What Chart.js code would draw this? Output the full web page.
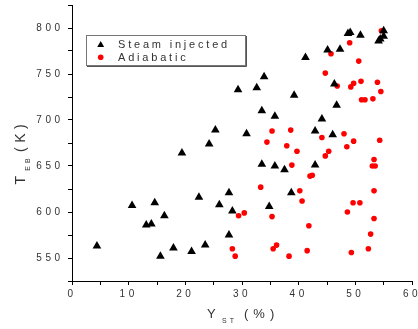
<!DOCTYPE html>
<html lang="en">
<head>
  <meta charset="UTF-8" />
  <title>T_EB vs Y_ST</title>
  <script src="https://cdn.jsdelivr.net/npm/chart.js"></script>
  <style>
    body { margin: 0; background: #fff; }
    canvas { display: block; }
  </style>
</head>
<body>
  <canvas id="chart" width="418" height="329"></canvas>

  <script>
    // values
    const steamX = [4.4, 10.6, 13.1, 14.0, 14.6, 16.3, 15.6, 17.9, 19.4, 21.1, 22.4, 23.5, 24.2, 25.3, 26.0, 27.7,
      28.3, 27.7, 29.3, 30.8, 32.6, 33.5, 33.9, 33.5, 35.8, 35.8, 37.5, 34.8, 38.7, 39.2, 41.2, 42.9, 42.9,
      44.1, 45.1, 46.0, 46.3, 46.7, 47.3, 48.7, 49.1, 50.9, 54.1, 54.4, 55.0, 55.0];
    const steamY = [563, 607, 586, 587, 610, 596, 552, 561, 664, 557, 616, 564, 674, 689, 608, 621,
      601, 575, 733, 685, 735, 710, 747, 652, 704, 650, 646, 606, 621, 727, 768, 688, 651,
      701, 776, 684, 739, 716, 777, 794, 795, 792, 786, 788, 797, 791];

    const adiabaticX = [49.0, 45.7, 50.6, 44.7, 51.0, 49.7, 49.2, 46.8, 53.9, 54.5, 51.1, 51.7, 53.1, 54.6,
      44.1, 48.0, 48.5, 49.7, 54.3, 44.7, 45.3, 53.3, 53.0, 53.5, 53.3, 49.6, 50.8, 48.6, 53.3, 52.7, 52.3, 49.3,
      35.3, 34.4, 38.6, 37.9, 39.7, 38.8, 42.0, 42.4, 40.2, 40.6, 33.3, 35.3, 30.4, 29.4, 41.8, 28.3, 28.8,
      35.5, 36.1, 38.3, 41.5];
    const adiabaticY = [784, 772, 764, 751, 742, 740, 736, 737, 741, 731, 722, 722, 723, 797,
      681, 685, 671, 677, 678, 661, 666, 657, 650, 650, 623, 610, 610, 600, 593, 576, 560, 556,
      688, 676, 689, 672, 666, 651, 639, 640, 623, 612, 627, 595, 599, 596, 585, 560, 552,
      560, 564, 552, 558];

    const seriesNames = ['Steam injected', 'Adiabatic'];
    const xTicks = [0, 10, 20, 30, 40, 50, 60];
    const yTicks = [550, 600, 650, 700, 750, 800];

    const FONT = '"Liberation Sans", Arial, sans-serif';
    const TEXT = '#333';

    const toPoints = (xs, ys) => xs.map((x, i) => ({ x: x, y: ys[i] }));

    // spaced-out tick digits like the original plot
    const spacing = {
      id: 'spacing',
      beforeDraw(chart) { chart.ctx.letterSpacing = '3.5px'; },
      afterDraw(chart) { chart.ctx.letterSpacing = '0px'; }
    };

    // axis titles with subscripts + boxed legend
    const decor = {
      id: 'decor',
      afterDraw(chart) {
        const ctx = chart.ctx;
        ctx.save();
        ctx.fillStyle = TEXT;
        ctx.textAlign = 'left';
        ctx.textBaseline = 'alphabetic';

        // x title
        ctx.letterSpacing = '0px';
        ctx.font = '13px ' + FONT;
        ctx.fillText('Y', 207, 318);
        ctx.font = '7px ' + FONT;
        ctx.letterSpacing = '3px';
        ctx.fillText('ST', 222, 322.5);
        ctx.font = '13px ' + FONT;
        ctx.letterSpacing = '5px';
        ctx.fillText('(%)', 244, 318);

        // y title, rotated
        ctx.save();
        ctx.translate(25, 184.5);
        ctx.rotate(-Math.PI / 2);
        ctx.letterSpacing = '0px';
        ctx.font = '14px ' + FONT;
        ctx.fillText('T', 0, 0);
        ctx.font = '7px ' + FONT;
        ctx.letterSpacing = '3px';
        ctx.fillText('EB', 13.8, 5);
        ctx.font = '14px ' + FONT;
        ctx.letterSpacing = '4.5px';
        ctx.fillText('(K)', 32.5, 0);
        ctx.restore();

        // legend box
        ctx.letterSpacing = '0px';
        ctx.fillStyle = '#fff';
        ctx.fillRect(86, 35, 160, 31);
        ctx.strokeStyle = '#777';
        ctx.lineWidth = 1;
        ctx.strokeRect(86.5, 35.5, 159, 30);
        ctx.strokeStyle = '#555';
        ctx.beginPath();
        ctx.moveTo(246.5, 36);
        ctx.lineTo(246.5, 66.5);
        ctx.lineTo(87, 66.5);
        ctx.stroke();

        const ds = chart.data.datasets;
        Chart.helpers.drawPoint(ctx, { pointStyle: 'triangle', radius: 4, borderWidth: 0 }, 100.7, 45);
        ctx.fillStyle = ds[0].backgroundColor;
        ctx.fill();
        ctx.beginPath();
        ctx.arc(100.7, 57.3, 2.8, 0, Math.PI * 2);
        ctx.fillStyle = ds[1].backgroundColor;
        ctx.fill();

        ctx.fillStyle = TEXT;
        ctx.font = '11px ' + FONT;
        ctx.letterSpacing = '2.8px';
        ctx.fillText(seriesNames[0], 118, 48.3);
        ctx.fillText(seriesNames[1], 118, 61);
        ctx.restore();
      }
    };

    new Chart(document.getElementById('chart'), {
      type: 'scatter',
      data: {
        datasets: [
          {
            label: seriesNames[0],
            data: toPoints(steamX, steamY),
            pointStyle: 'triangle',
            pointRadius: 5,
            backgroundColor: '#000',
            borderColor: '#000',
            borderWidth: 0
          },
          {
            label: seriesNames[1],
            data: toPoints(adiabaticX, adiabaticY),
            pointStyle: 'circle',
            pointRadius: 2.8,
            backgroundColor: '#ff0000',
            borderColor: '#ff0000',
            borderWidth: 0
          }
        ]
      },
      options: {
        responsive: false,
        animation: false,
        layout: { padding: { top: 5, right: 6, left: 0, bottom: 0 } },
        plugins: {
          legend: { display: false },
          tooltip: { enabled: false }
        },
        scales: {
          x: {
            type: 'linear',
            min: 0,
            max: 60,
            afterFit: s => { s.height = 48; s.paddingLeft = 0; s.paddingRight = 0; },
            border: { display: true, color: '#000', width: 1 },
            grid: { drawOnChartArea: false, drawTicks: true, tickLength: 4, tickColor: '#000' },
            ticks: {
              stepSize: 5,
              padding: 3,
              color: TEXT,
              font: { family: FONT, size: 10 },
              maxRotation: 0,
              callback: v => xTicks.includes(v) ? String(v) : ''
            }
          },
          y: {
            type: 'linear',
            min: 525,
            max: 825,
            afterFit: s => { s.width = 72; s.paddingTop = 0; s.paddingBottom = 0; },
            border: { display: true, color: '#000', width: 1 },
            grid: { drawOnChartArea: false, drawTicks: true, tickLength: 4, tickColor: '#000' },
            ticks: {
              stepSize: 25,
              padding: 4.5,
              color: TEXT,
              font: { family: FONT, size: 10 },
              callback: v => yTicks.includes(v) ? String(v) : ''
            }
          }
        }
      },
      plugins: [spacing, decor]
    });
  </script>
</body>
</html>
